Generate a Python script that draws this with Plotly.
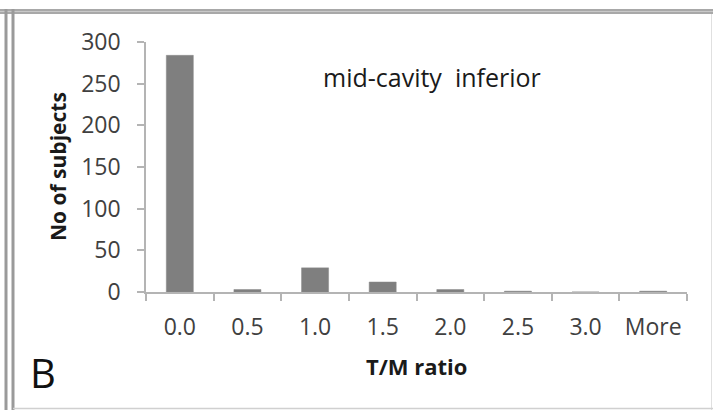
import plotly.graph_objects as go

categories = ["0.0", "0.5", "1.0", "1.5", "2.0", "2.5", "3.0", "More"]
counts = [284, 3, 29, 12, 3, 1, 0, 1]
y_ticks = [0, 50, 100, 150, 200, 250, 300]

W, H = 713, 410
L, R, T, B = 146, 26, 42, 118
PW, PH = W - L - R, H - T - B


def px(x):
    return (x - L) / PW


def py(y):
    return (H - B - y) / PH


fig = go.Figure()
fig.add_trace(go.Bar(
    x=categories, y=counts,
    marker=dict(color="#7f7f7f", line=dict(color="#8a8a8a", width=0.5)),
    width=0.4,
))

axis_col = "#b4b4b4"
tick_font = dict(family="Open Sans", size=23, color="#404040")

fig.update_layout(
    width=W, height=H,
    margin=dict(l=L, r=R, t=T, b=B),
    paper_bgcolor="white", plot_bgcolor="white",
    showlegend=False,
    xaxis=dict(
        type="category", showgrid=False, showline=True, linecolor=axis_col, linewidth=1.5,
        ticks="outside", tickson="boundaries", ticklen=7, tickcolor=axis_col, tickwidth=1.5,
        tickfont=tick_font, ticklabelstandoff=14,
    ),
    yaxis=dict(
        range=[0, 300], tickvals=y_ticks, showgrid=False, zeroline=False,
        showline=True, linecolor=axis_col, linewidth=1.5,
        ticks="outside", ticklen=7, tickcolor=axis_col, tickwidth=1.5,
        tickfont=tick_font, ticklabelstandoff=12,
    ),
)

# axis titles and labels
common = dict(xref="paper", yref="paper", showarrow=False, xanchor="center", yanchor="middle")
fig.add_annotation(text="<b>No of subjects</b>", x=px(58), y=py(167), textangle=-90,
                   font=dict(family="Open Sans", size=21, color="#1a1a1a"), **common)
fig.add_annotation(text="<b>T/M ratio</b>", x=px(416), y=py(366),
                   font=dict(family="Open Sans", size=22, color="#1a1a1a"), **common)
fig.add_annotation(text="mid-cavity  inferior", x=px(432), y=py(77),
                   font=dict(family="Open Sans", size=25, color="#1a1a1a"), **common)
fig.add_annotation(text="B", x=px(43), y=py(372),
                   font=dict(family="Open Sans", size=40, color="#111111"), **common)

# frame borders
border = "#9a9a9a"
fig.add_shape(type="rect", xref="paper", yref="paper", x0=px(0), x1=px(713), y0=py(14), y1=py(9),
              fillcolor="#a8a8a8", line_width=0, layer="above")
fig.add_shape(type="line", xref="paper", yref="paper", x0=px(0), x1=px(713), y0=py(11.5), y1=py(11.5),
              line=dict(color="#c8c8c8", width=1), layer="above")
for xx in (6, 13):
    fig.add_shape(type="line", xref="paper", yref="paper", x0=px(xx), x1=px(xx), y0=py(9), y1=py(410),
                  line=dict(color=border, width=3), layer="above")
fig.add_shape(type="line", xref="paper", yref="paper", x0=px(711.5), x1=px(711.5), y0=py(14), y1=py(410),
              line=dict(color="#e0e0e0", width=1), layer="above")
fig.add_shape(type="line", xref="paper", yref="paper", x0=px(13), x1=px(713), y0=py(408.5), y1=py(408.5),
              line=dict(color="#d0d0d0", width=1.5), layer="above")

fig.write_html("out.html", config={"displayModeBar": False},
               post_script="document.body.style.margin='0';document.body.style.overflow='hidden';")
